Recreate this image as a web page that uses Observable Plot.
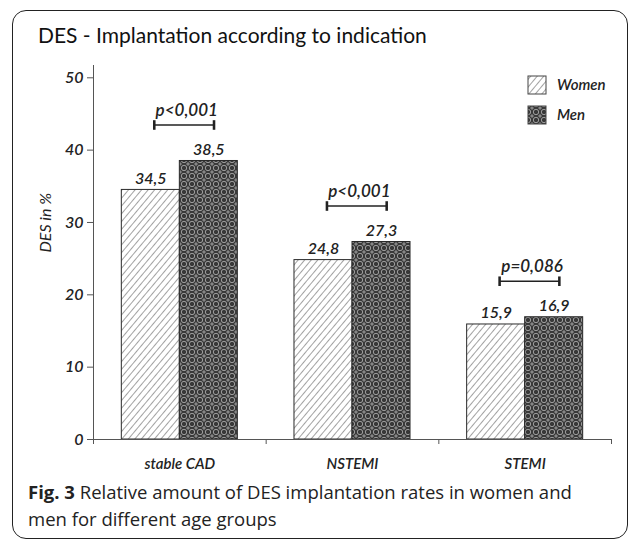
<!DOCTYPE html>
<html>
<head>
<meta charset="utf-8">
<script src="https://cdn.jsdelivr.net/npm/d3@7"></script>
<script src="https://cdn.jsdelivr.net/npm/@observablehq/plot@0.6"></script>
<style>
  html, body { margin: 0; padding: 0; background: #fff; }
  body { width: 635px; height: 542px; position: relative; overflow: hidden; }
  #frame { position: absolute; left: 12px; top: 10px; width: 616px; height: 529px;
           border: 1.5px solid #222; border-radius: 14px; box-sizing: border-box; }
  #title { position: absolute; left: 38px; top: 22px; font-family: "Lato", sans-serif;
           font-size: 21px; color: #111; white-space: nowrap; }
  #chart { position: absolute; left: 0; top: 0; }
  #caption { position: absolute; left: 28px; top: 478px; font-family: "Open Sans", sans-serif;
             font-size: 18.5px; line-height: 27px; color: #222; white-space: nowrap; }
  #caption b { font-weight: 700; }
</style>
</head>
<body>
<div id="frame"></div>
<div id="title">DES - Implantation according to indication</div>
<div id="chart"></div>
<div id="caption"><b>Fig. 3</b> Relative amount of DES implantation rates in women and<br>men for different age groups</div>
<script>
// ---- data ----
const categories = ["stable CAD", "NSTEMI", "STEMI"];
const series = ["Women", "Men"];
const women = [34.5, 24.8, 15.9];
const men = [38.5, 27.3, 16.9];
const pValues = ["p<0,001", "p<0,001", "p=0,086"];
const yTicks = [0, 10, 20, 30, 40, 50];
const yLabel = "DES in %";

// ---- derived table ----
const bw = 0.336; // bar width in category units
const rows = [];
categories.forEach((c, i) => {
  rows.push({cat: c, i, sex: "Women", value: women[i]});
  rows.push({cat: c, i, sex: "Men", value: men[i]});
});
const brackets = categories.map((c, i) => ({cat: c, i, p: pValues[i], top: Math.max(women[i], men[i])}));
const x1 = d => d.i + 0.5 + (d.sex === "Women" ? -bw : 0);
const x2 = d => d.i + 0.5 + (d.sex === "Women" ? 0 : bw);
const xc = d => d.i + 0.5 + (d.sex === "Women" ? -bw / 2 : bw / 2);
const fmt = v => v.toFixed(1).replace(".", ",");
const fills = {Women: "url(#hatchW)", Men: "url(#patM)"};

const plot = Plot.plot({
  width: 635,
  height: 472,
  marginLeft: 93,
  marginRight: 24,
  marginTop: 65,
  marginBottom: 33,
  style: {fontFamily: "Lato, sans-serif", fontSize: "15px", fontStyle: "italic", fontWeight: 600, color: "#222", background: "transparent", overflow: "visible"},
  x: {type: "linear", domain: [0, categories.length]},
  y: {domain: [0, 51.7]},
  marks: [
    ...series.map(s => Plot.rectY(rows.filter(d => d.sex === s), {
      x1, x2, y1: 0, y2: "value", fill: fills[s], stroke: "#2a2a2a", strokeWidth: 1
    })),
    Plot.text(rows, {x: xc, y: "value", text: d => fmt(d.value), dy: -6, lineAnchor: "bottom",
      fontSize: 16, fontStyle: "italic", fill: "#222"}),
    Plot.link(brackets, {
      x1: d => d.i + 0.5 - bw / 2 + 0.02, x2: d => d.i + 0.5 + bw / 2 + 0.03,
      y1: "top", y2: "top", dy: -36, stroke: "#222", strokeWidth: 1.6,
      markerStart: "tick", markerEnd: "tick"
    }),
    Plot.text(brackets, {x: d => d.i + 0.5 + 0.04, y: "top", text: "p", dy: -45, lineAnchor: "bottom",
      fontSize: 17, fontStyle: "italic", fill: "#222"}),
    Plot.ruleX([0], {stroke: "#555"}),
    Plot.ruleY([0], {stroke: "#555"}),
    Plot.axisY({ticks: yTicks, tickSize: 6, tickPadding: 4, label: null, stroke: "#555", fontSize: 16}),
    Plot.axisX({ticks: [0, 1, 2, 3], tickSize: 5, tickFormat: () => "", label: null, stroke: "#555"}),
    Plot.axisX({ticks: categories.map((c, i) => i + 0.5), tickSize: 0, tickPadding: 19,
      tickFormat: t => categories[Math.floor(t)], label: null, fontSize: 15}),
    Plot.text([yLabel], {frameAnchor: "left", rotate: -90, dx: -48, fontSize: 16, fontWeight: 400, fontStyle: "italic", fill: "#222"})
  ]
});

document.getElementById("chart").appendChild(plot);

// patterns + legend
const svg = d3.select(plot);
const defs = svg.insert("defs", ":first-child");
const pw = defs.append("pattern").attr("id", "hatchW").attr("patternUnits", "userSpaceOnUse")
  .attr("width", 5).attr("height", 5).attr("patternTransform", "rotate(40)");
pw.append("rect").attr("width", 5).attr("height", 5).attr("fill", "#fff");
pw.append("line").attr("x1", 0).attr("y1", 0).attr("x2", 0).attr("y2", 5)
  .attr("stroke", "#555").attr("stroke-width", 1.1);
const pm = defs.append("pattern").attr("id", "patM").attr("patternUnits", "userSpaceOnUse")
  .attr("width", 8).attr("height", 8);
pm.append("rect").attr("width", 8).attr("height", 8).attr("fill", "#383838");
for (const [cx, cy] of [[0,0],[8,0],[0,8],[8,8]]) {
  pm.append("circle").attr("cx", cx).attr("cy", cy).attr("r", 2.7).attr("fill", "none")
    .attr("stroke", "#a8a8a8").attr("stroke-width", 0.9);
}
pm.append("path").attr("d", "M4,2.2V5.8M2.2,4H5.8").attr("stroke", "#a8a8a8").attr("stroke-width", 0.9);

const leg = svg.append("g").attr("class", "legend").attr("text-anchor", "start");
series.forEach((s, k) => {
  const y0 = 76 + k * 30;
  leg.append("rect").attr("x", 528).attr("y", y0).attr("width", 18).attr("height", 18)
    .attr("fill", fills[s]).attr("stroke", "#444").attr("stroke-width", 1);
  leg.append("text").attr("x", 557).attr("y", y0 + 14).text(s)
    .attr("text-anchor", "start")
    .attr("font-size", 15).attr("font-style", "italic").attr("fill", "#222");
});
</script>
</body>
</html>
